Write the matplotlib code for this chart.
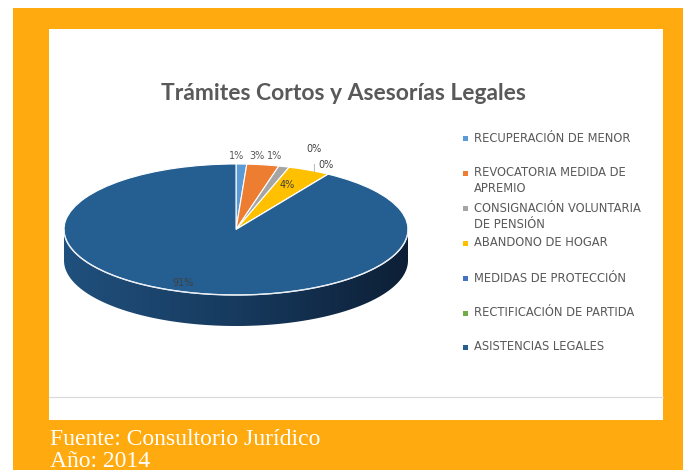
import numpy as np
import matplotlib.pyplot as plt
from matplotlib.patches import Rectangle, Polygon
from matplotlib.colors import LinearSegmentedColormap

# data
categorias = [
    "RECUPERACIÓN DE MENOR",
    "REVOCATORIA MEDIDA DE\nAPREMIO",
    "CONSIGNACIÓN VOLUNTARIA\nDE PENSIÓN",
    "ABANDONO DE HOGAR",
    "MEDIDAS DE PROTECCIÓN",
    "RECTIFICACIÓN DE PARTIDA",
    "ASISTENCIAS LEGALES",
]
porcentajes = [1, 3, 1, 4, 0, 0, 91]
colores = ["#5B9BD5", "#ED7D31", "#A5A5A5", "#FFC000", "#4472C4", "#70AD47", "#255E91"]

titulo = "Trámites Cortos y Asesorías Legales"
fuente = "Fuente: Consultorio Jurídico\nAño: 2014"

W, H = 683, 470
ORANGE = "#FFAB0F"
GRAY_TXT = "#595959"

fig = plt.figure(figsize=(W / 100, H / 100), dpi=100)
fig.patch.set_facecolor("white")


def px(x0, y0, w, h):
    # pixel box (top-left origin) -> figure fraction
    return [x0 / W, 1 - (y0 + h) / H, w / W, h / H]


# orange frame and white panel
bg = fig.add_axes([0, 0, 1, 1])
bg.set_xlim(0, W)
bg.set_ylim(H, 0)
bg.axis("off")
bg.add_patch(Rectangle((13, 8), W - 13, H - 8, color=ORANGE, lw=0))
bg.add_patch(Rectangle((49, 29), 614, 391, color="white", lw=0))
bg.plot([49, 663], [397, 397], color="#D9D9D9", lw=0.8)

fig.text(343 / W, 1 - 93 / H, titulo, ha="center", va="center",
         fontsize=16.5, fontweight="bold", color=GRAY_TXT, family="Lato")
fig.text(50 / W, 1 - 429 / H, fuente, ha="left", va="top", fontsize=17,
         color="white", family="Liberation Serif", linespacing=1.05)

# pie (ellipse via non-equal aspect)
depth = 31 / 65.5
ax = fig.add_axes(px(64, 164, 344, 131 + 31))
wedges, _ = ax.pie(porcentajes, colors=colores, startangle=90, counterclock=False,
                   wedgeprops=dict(edgecolor="white", linewidth=0.8))
ax.set_aspect("auto")

# side wall of the front half
t = np.linspace(np.pi, 2 * np.pi, 200)
side = np.concatenate([np.c_[np.cos(t), np.sin(t)],
                       np.c_[np.cos(t[::-1]), np.sin(t[::-1]) - depth]])
poly = Polygon(side, closed=True, facecolor="none", edgecolor="none")
ax.add_patch(poly)
cmap = LinearSegmentedColormap.from_list("lado", ["#20507D", "#173A5E", "#0D1F36"])
grad = np.linspace(0, 1, 256).reshape(1, -1)
im = ax.imshow(grad, cmap=cmap, extent=(-1, 1, -1 - depth, 0), aspect="auto",
               zorder=0.5)
im.set_clip_path(poly)
ax.plot(np.cos(t), np.sin(t), color="#E8EEF4", lw=1.0, zorder=3)
ax.set_xlim(-1, 1)
ax.set_ylim(-1 - depth, 1)

# percentage labels: (radius, angle offset) from each slice's mid angle
ang = 90 - 360 * (np.cumsum(porcentajes) - np.array(porcentajes) / 2) / sum(porcentajes)
lab_pos = [(1.12, 1.5), (1.127, 2.8), (1.14, 5), (0.74, 1.5),
           (1.31, 12.2), (1.115, 4.4), (0.873, -4.4)]
for i, p in enumerate(porcentajes):
    r, da = lab_pos[i]
    a = np.deg2rad(ang[i] + da)
    x, y = r * np.cos(a), r * np.sin(a)
    ax.text(x, y, f"{p}%", ha="center", va="center", fontsize=7,
            color="#404040" if i >= 3 else GRAY_TXT, zorder=5)
    if i == 4:
        # leader line for the first 0% label
        ax.plot([x, x], [np.sqrt(1 - x ** 2), y - 0.12],
                color="#BFBFBF", lw=0.8, zorder=4)

# legend
rows = [138, 173, 208, 243, 278, 313, 347]
for lbl, c, y in zip(categorias, colores, rows):
    bg.add_patch(Rectangle((463, y - 2.5), 5, 5, color=c, lw=0))
    if "\n" in lbl:
        bg.text(474, y - 6.5, lbl, ha="left", va="top", fontsize=8.3,
                color=GRAY_TXT, linespacing=1.3)
    else:
        bg.text(474, y, lbl, ha="left", va="center", fontsize=8.3, color=GRAY_TXT)

fig.savefig("out.png", dpi=100)
